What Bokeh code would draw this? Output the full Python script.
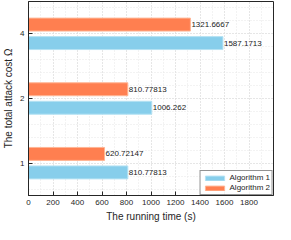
import numpy as np
from bokeh.plotting import figure
from bokeh.models import ColumnDataSource, FixedTicker, Legend, LegendItem, Range1d
from bokeh.transform import dodge
from bokeh.core.properties import value
from bokeh.embed import file_html
from bokeh.resources import INLINE

costs = ["1", "2", "4"]
pos = [1, 2, 3]
alg1 = [810.77813, 1006.262, 1587.1713]
alg2 = [620.72147, 810.77813, 1321.6667]
alg1_lbl = ["810.77813", "1006.262", "1587.1713"]
alg2_lbl = ["620.72147", "810.77813", "1321.6667"]
x_ticks = [0, 200, 400, 600, 800, 1000, 1200, 1400, 1600, 1800]

FONT = "Liberation Sans"
BLUE = "#87CEEB"
ORANGE = "#FF7F50"
AX = "#262626"

src = ColumnDataSource(dict(pos=pos, a1=alg1, a2=alg2, l1=alg1_lbl, l2=alg2_lbl))

p = figure(width=275, height=224, output_backend="svg", toolbar_location=None,
           x_range=Range1d(0, 2000), y_range=Range1d(0.5, 3.5),
           min_border_left=2, min_border_right=2, min_border_top=1, min_border_bottom=1)

r1 = p.hbar(y=dodge("pos", -0.143), right="a1", left=0, height=0.2, source=src,
            fill_color=BLUE, line_color="#b5e2f3", line_width=1)
r2 = p.hbar(y=dodge("pos", 0.143), right="a2", left=0, height=0.2, source=src,
            fill_color=ORANGE, line_color="#ffb594", line_width=1)

p.text(x="a1", y=dodge("pos", -0.143), text="l1", source=src, x_offset=1,
       text_font=value(FONT), text_font_size="8px", text_baseline="middle", text_align="left", text_color="#222")
p.text(x="a2", y=dodge("pos", 0.143), text="l2", source=src, x_offset=1,
       text_font=value(FONT), text_font_size="8px", text_baseline="middle", text_align="left", text_color="#222")

xt = FixedTicker(ticks=x_ticks, minor_ticks=list(np.arange(0, 2001, 100)))
yt = FixedTicker(ticks=pos, minor_ticks=list(np.round(np.arange(0.6, 3.5, 0.2), 2)))
p.xaxis.ticker = xt
p.yaxis.ticker = yt
p.yaxis.major_label_overrides = {1: "1", 2: "2", 3: "4"}

for ax in [p.xaxis[0], p.yaxis[0]]:
    ax.major_tick_in = 4
    ax.major_tick_out = 0
    ax.minor_tick_in = 0
    ax.minor_tick_out = 0
    ax.axis_line_color = AX
    ax.major_tick_line_color = AX
    ax.major_label_text_font = FONT
    ax.major_label_text_font_size = "8px"
    ax.major_label_text_color = AX
    ax.axis_label_text_font = FONT
    ax.axis_label_text_font_size = "10px"
    ax.axis_label_text_font_style = "normal"
    ax.axis_label_text_color = AX
    ax.major_label_standoff = 4
    ax.axis_label_standoff = 3

p.xaxis.axis_label = "The running time (s)"
p.yaxis.axis_label = "The total attack cost Ω"

for g in [p.xgrid[0], p.ygrid[0]]:
    g.grid_line_color = "#d9d9d9"
    g.grid_line_dash = "1 2"
    g.minor_grid_line_color = "#e6e6e6"
    g.minor_grid_line_dash = "1 2"

p.outline_line_color = AX
p.outline_line_width = 1
p.background_fill_color = "white"

legend = Legend(items=[LegendItem(label="Algorithm 1", renderers=[r1]),
                       LegendItem(label="Algorithm 2", renderers=[r2])],
                location="bottom_right", label_text_font=FONT, label_text_font_size="8px",
                label_text_color=AX, glyph_width=24, glyph_height=6, label_height=8,
                spacing=1, padding=2, margin=0, label_standoff=3,
                border_line_color=AX, border_line_width=1)
p.add_layout(legend)

open("out.html", "w").write(file_html(p, INLINE))
